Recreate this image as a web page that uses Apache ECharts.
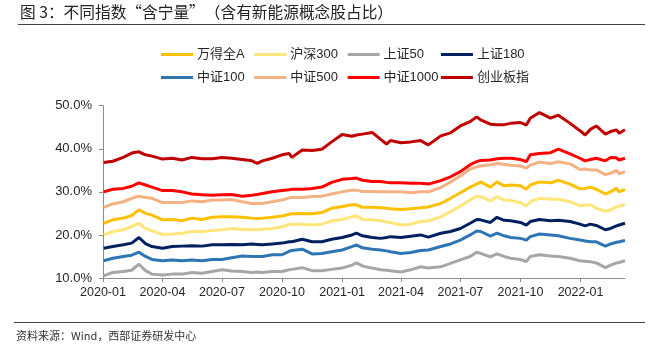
<!DOCTYPE html>
<html>
<head>
<meta charset="utf-8">
<script src="https://cdn.jsdelivr.net/npm/echarts@6.0.0/dist/echarts.min.js"></script>
<style>
  html, body { margin: 0; padding: 0; background: #fff; }
  #chart { width: 655px; height: 350px; }
</style>
</head>
<body>
<div id="chart"></div>
<script>
// 日期（约半月一个点，另加几个明显拐点）
const dates = [
  "2020-01-02", "2020-01-16", "2020-02-01", "2020-02-14", "2020-02-25", "2020-03-06", "2020-03-16",
  "2020-04-01", "2020-04-16", "2020-05-01", "2020-05-16", "2020-06-01", "2020-06-16", "2020-07-01",
  "2020-07-16", "2020-08-01", "2020-08-16", "2020-08-24", "2020-09-01", "2020-09-16", "2020-10-01",
  "2020-10-12", "2020-10-16", "2020-11-01", "2020-11-16", "2020-12-01", "2020-12-16", "2021-01-01",
  "2021-01-16", "2021-01-23", "2021-02-01", "2021-02-16", "2021-03-01", "2021-03-10", "2021-03-16",
  "2021-04-01", "2021-04-16", "2021-05-01", "2021-05-13", "2021-06-01", "2021-06-16", "2021-07-01",
  "2021-07-16", "2021-07-26", "2021-08-01", "2021-08-16", "2021-08-26", "2021-09-06", "2021-09-16",
  "2021-10-01", "2021-10-10", "2021-10-16", "2021-10-30", "2021-11-16", "2021-11-28", "2021-12-16",
  "2021-12-31", "2022-01-08", "2022-01-16", "2022-01-25", "2022-02-08", "2022-02-16", "2022-02-25",
  "2022-03-01", "2022-03-10"
];

const wdqa = [22.7, 23.5, 23.9, 24.5, 25.8, 25.0, 24.6, 23.5, 23.6, 23.3, 23.9, 23.6, 24.1, 24.2, 24.2, 24.1, 23.9, 23.8, 23.9, 24.1, 24.4, 24.8, 24.9, 25.0, 24.9, 25.2, 26.2, 26.6, 27.0, 27.0, 26.4, 26.4, 26.3, 26.2, 26.1, 25.9, 26.1, 26.3, 26.5, 27.3, 28.5, 29.8, 31.1, 31.8, 32.3, 31.1, 32.3, 31.4, 31.6, 31.4, 30.6, 31.6, 32.3, 32.1, 32.7, 31.8, 30.7, 30.8, 31.1, 30.6, 29.5, 30.0, 30.8, 30.0, 30.6];
const hs300 = [20.0, 20.8, 21.2, 22.0, 22.7, 21.5, 21.0, 20.1, 20.2, 20.4, 20.8, 20.8, 21.0, 21.2, 21.5, 21.3, 21.2, 21.2, 21.3, 21.5, 21.9, 22.4, 22.5, 22.5, 22.3, 22.5, 23.3, 23.6, 24.2, 24.4, 23.6, 23.5, 23.3, 23.0, 22.9, 22.3, 22.5, 23.1, 23.3, 24.2, 25.4, 26.7, 28.1, 29.0, 28.9, 27.9, 28.9, 28.1, 28.0, 27.5, 26.7, 27.7, 28.5, 28.3, 28.3, 27.7, 26.8, 26.9, 27.0, 26.2, 25.5, 25.8, 26.5, 26.7, 27.0];
const sz50 = [10.5, 11.3, 11.5, 11.8, 13.2, 11.7, 10.9, 10.7, 10.9, 10.9, 11.3, 11.1, 11.5, 11.9, 11.6, 11.5, 11.3, 11.4, 11.3, 11.5, 11.5, 11.9, 12.0, 12.4, 11.7, 11.7, 12.0, 12.3, 13.0, 13.5, 12.8, 12.3, 11.9, 11.8, 11.7, 11.4, 11.9, 12.6, 12.3, 12.6, 13.4, 14.2, 15.0, 16.0, 15.7, 14.9, 15.6, 15.0, 14.6, 14.3, 13.8, 15.0, 15.4, 15.1, 15.0, 14.6, 14.0, 13.9, 13.8, 13.5, 12.4, 13.0, 13.5, 13.6, 14.0];
const sz180 = [16.9, 17.3, 17.7, 18.1, 19.4, 18.0, 17.3, 16.9, 17.3, 17.4, 17.5, 17.4, 17.7, 17.7, 17.8, 17.7, 17.9, 17.8, 17.7, 17.9, 18.1, 18.4, 18.4, 19.0, 18.4, 18.4, 19.0, 19.4, 20.0, 20.4, 19.8, 19.4, 19.2, 19.4, 19.6, 19.4, 19.7, 20.0, 19.5, 20.4, 20.8, 21.5, 22.7, 23.6, 23.5, 22.9, 24.1, 23.4, 23.3, 22.9, 22.3, 23.1, 23.6, 23.3, 23.4, 23.1, 22.5, 22.1, 22.5, 22.2, 21.2, 21.5, 22.1, 22.3, 22.7];
const zz100 = [14.0, 14.6, 15.0, 15.3, 16.0, 15.0, 14.3, 14.0, 14.2, 14.0, 14.2, 14.0, 14.3, 14.3, 14.7, 15.1, 15.0, 15.0, 15.0, 15.4, 15.4, 16.2, 16.4, 16.7, 15.6, 15.7, 16.1, 16.5, 17.3, 17.7, 17.0, 16.7, 16.5, 16.3, 16.1, 15.7, 15.9, 16.4, 16.5, 17.3, 17.9, 18.8, 20.0, 20.9, 20.8, 19.7, 20.4, 19.8, 19.4, 19.2, 18.8, 19.6, 20.2, 20.0, 19.8, 19.2, 18.8, 18.6, 18.4, 18.4, 17.4, 17.9, 18.3, 18.4, 18.7];
const zz500 = [26.4, 27.2, 27.7, 28.5, 29.0, 28.7, 28.5, 27.5, 27.5, 27.5, 27.9, 27.7, 28.1, 28.1, 28.2, 27.7, 27.3, 27.3, 27.3, 27.7, 28.1, 28.6, 28.7, 28.7, 28.9, 29.0, 29.5, 30.0, 30.4, 30.4, 30.1, 30.1, 30.0, 30.0, 30.0, 30.0, 29.8, 30.0, 30.0, 31.0, 32.3, 33.7, 35.3, 35.8, 36.0, 36.3, 36.6, 36.4, 36.2, 36.0, 35.5, 36.2, 36.9, 36.6, 37.0, 36.5, 35.2, 35.3, 35.1, 35.1, 34.0, 34.3, 35.0, 34.2, 34.7];
const zz1000 = [30.0, 30.6, 30.8, 31.3, 32.1, 31.6, 31.1, 30.3, 30.3, 30.0, 29.5, 29.3, 29.2, 29.3, 29.4, 29.0, 29.2, 29.4, 29.6, 30.0, 30.3, 30.5, 30.6, 30.6, 30.8, 31.1, 32.2, 32.9, 33.1, 33.2, 32.7, 32.4, 32.4, 32.2, 32.1, 32.1, 32.0, 32.0, 31.8, 32.6, 33.5, 34.7, 36.3, 37.0, 37.3, 37.4, 37.7, 37.8, 37.8, 37.5, 37.0, 38.6, 38.9, 39.1, 39.9, 38.8, 37.8, 37.2, 37.5, 37.8, 37.2, 38.0, 37.9, 37.4, 37.8];
const cybz = [36.8, 37.1, 38.0, 39.0, 39.3, 38.6, 38.3, 37.6, 37.8, 37.4, 38.0, 37.7, 37.7, 38.0, 37.8, 37.5, 37.2, 36.6, 37.2, 37.8, 38.6, 38.9, 38.0, 39.7, 39.6, 39.9, 41.6, 43.3, 42.9, 43.2, 43.4, 43.8, 42.2, 41.1, 41.9, 41.4, 41.6, 41.9, 40.9, 43.0, 43.7, 45.3, 46.3, 47.4, 46.7, 45.7, 45.6, 45.6, 45.9, 46.1, 45.5, 47.1, 48.4, 47.1, 47.8, 45.9, 44.2, 43.2, 44.5, 45.3, 43.4, 44.0, 44.4, 43.6, 44.4];

const seriesNames = ["万得全A", "沪深300", "上证50", "上证180", "中证100", "中证500", "中证1000", "创业板指"];
const seriesValues = [wdqa, hs300, sz50, sz180, zz100, zz500, zz1000, cybz];
const seriesColors = ["#FFC000", "#FFE57A", "#A6A6A6", "#002060", "#2E75B6", "#F4B183", "#FF0000", "#C00000"];

const yTicks = { min: 10, max: 50, interval: 10 };

const DAY = 24 * 3600 * 1000;
const cjk = "'Liberation Sans', Arial, 'Noto Sans CJK SC', sans-serif";

let chart = echarts.init(document.getElementById("chart"), null, { renderer: "canvas" });

// 图例：两行四列，固定列宽
let legends = seriesNames.map((name, i) => ({
  data: [name],
  left: 161 + (i % 4) * 93.3,
  top: i < 4 ? 48 : 71,
  padding: 0,
  icon: "rect",
  itemWidth: 32,
  itemHeight: 3,
  textStyle: { fontSize: 13, color: "#262626", fontFamily: cjk, padding: [0, 0, 0, -1] }
}));

let series = seriesNames.map((name, i) => ({
  name: name,
  type: "line",
  showSymbol: false,
  symbol: "none",
  lineStyle: { width: 3, color: seriesColors[i] },
  itemStyle: { color: seriesColors[i] },
  data: dates.map((d, j) => [d, seriesValues[i][j]])
}));

let option = {
  animation: false,
  backgroundColor: "#fff",
  textStyle: { fontFamily: cjk },
  legend: legends,
  grid: { left: 103, right: 30, top: 105.7, bottom: 72 },
  xAxis: {
    type: "time",
    min: "2020-01-01",
    max: "2022-03-10",
    minInterval: 90 * DAY,
    maxInterval: 92 * DAY,
    axisLine: { lineStyle: { color: "#8c8c8c", width: 1 } },
    axisTick: { show: true, length: 4, lineStyle: { color: "#8c8c8c" } },
    axisLabel: {
      formatter: "{yyyy}-{MM}",
      fontSize: 12.5,
      color: "#262626",
      margin: 8,
      showMaxLabel: false
    },
    splitLine: { show: false }
  },
  yAxis: {
    type: "value",
    min: yTicks.min,
    max: yTicks.max,
    interval: yTicks.interval,
    axisLine: { show: true, lineStyle: { color: "#8c8c8c", width: 1 } },
    axisTick: { show: true, length: 4, lineStyle: { color: "#8c8c8c" } },
    axisLabel: {
      formatter: v => v.toFixed(1) + "%",
      fontSize: 13,
      color: "#262626",
      margin: 11
    },
    splitLine: { show: false }
  },
  graphic: [
    {
      type: "text",
      left: 20,
      top: 4,
      style: {
        text: "图 3：不同指数“含宁量”（含有新能源概念股占比）",
        fontSize: 15.7,
        fill: "#222",
        fontFamily: "'Noto Sans CJK SC', sans-serif"
      }
    },
    {
      type: "line",
      shape: { x1: 18, y1: 24.5, x2: 645, y2: 24.5 },
      style: { stroke: "#444", lineWidth: 1.2 }
    },
    {
      type: "line",
      shape: { x1: 14, y1: 322.5, x2: 645, y2: 322.5 },
      style: { stroke: "#444", lineWidth: 1.2 }
    },
    {
      type: "text",
      left: 16,
      top: 330,
      style: {
        text: "资料来源：Wind，西部证券研发中心",
        fontSize: 11,
        fill: "#333",
        fontFamily: "'Noto Sans CJK SC', sans-serif"
      }
    }
  ],
  series: series
};

chart.setOption(option);
</script>
</body>
</html>
